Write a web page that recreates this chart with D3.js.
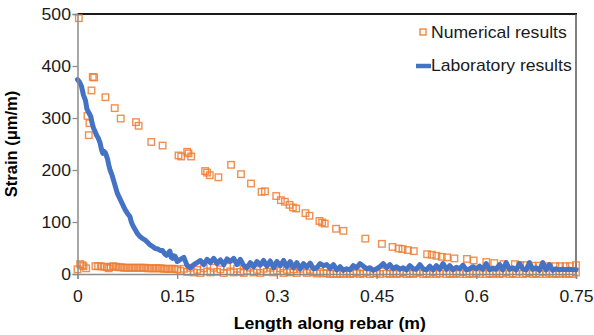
<!DOCTYPE html>
<html>
<head>
<meta charset="utf-8">
<script src="https://cdn.jsdelivr.net/npm/d3@7"></script>
<style>
  body { margin: 0; background: #fff; }
  text { font-family: "Liberation Sans", Arial, sans-serif; }
</style>
</head>
<body>
<div id="chart"></div>
<script>
// numerical results - upper branch (m, µm/m)
var numUpperX = [0.002, 0.015, 0.017, 0.018, 0.021, 0.023, 0.025, 0.042, 0.056, 0.065, 0.088, 0.092, 0.111, 0.128,
  0.152, 0.156, 0.165, 0.167, 0.171, 0.192, 0.195, 0.199, 0.212, 0.231, 0.246, 0.261, 0.277, 0.282, 0.299, 0.306,
  0.312, 0.319, 0.324, 0.329, 0.343, 0.349, 0.364, 0.368, 0.372, 0.389, 0.400, 0.433, 0.458, 0.474, 0.483, 0.489,
  0.497, 0.506, 0.526, 0.533, 0.540, 0.548, 0.556, 0.567, 0.586, 0.596, 0.615, 0.627, 0.641, 0.658, 0.666, 0.673,
  0.684, 0.695, 0.709, 0.719, 0.726, 0.734, 0.741, 0.750];
var numUpperY = [492, 304, 267, 290, 353, 379, 378, 340, 319, 299, 292, 285, 254, 247,
  228, 226, 235, 232, 226, 198, 195, 190, 186, 210, 192, 174, 158, 159, 150, 142,
  139, 133, 128, 126, 117, 112, 102, 99, 97, 87, 83, 68, 58, 52, 49, 48,
  46, 44, 38, 37, 35, 33, 32, 30, 29, 26, 23, 21, 19, 19, 17, 17,
  16, 16, 15, 15, 15, 15, 15, 17];

// numerical results - lower branch along the axis
var numLowerX = [0.000, 0.004, 0.007, 0.009, 0.013, 0.027, 0.031, 0.035, 0.040, 0.044, 0.047, 0.050, 0.054, 0.058,
  0.062, 0.066, 0.070, 0.074, 0.078, 0.082, 0.086, 0.090, 0.094, 0.098, 0.102, 0.106, 0.110, 0.114, 0.118, 0.122,
  0.126, 0.130, 0.134, 0.138, 0.142, 0.146, 0.150,
  0.155, 0.160, 0.165, 0.170, 0.175, 0.180, 0.185, 0.190, 0.195, 0.200, 0.205, 0.210, 0.215, 0.220, 0.225, 0.230,
  0.235, 0.240, 0.245, 0.250, 0.255, 0.260, 0.265, 0.270, 0.275, 0.280, 0.285, 0.290, 0.295, 0.300, 0.305, 0.310,
  0.315, 0.320, 0.325, 0.330, 0.335, 0.340, 0.345, 0.350, 0.355, 0.360, 0.365, 0.370, 0.375, 0.380, 0.385, 0.390,
  0.395, 0.400, 0.405, 0.410, 0.415, 0.420, 0.425, 0.430, 0.435, 0.440, 0.445, 0.450, 0.455, 0.460, 0.465, 0.470,
  0.475, 0.480, 0.485, 0.490, 0.495, 0.500, 0.505, 0.510, 0.515, 0.520, 0.525, 0.530, 0.535, 0.540, 0.545, 0.550,
  0.555, 0.560, 0.565, 0.570, 0.575, 0.580, 0.585, 0.590, 0.595, 0.600, 0.605, 0.610, 0.615, 0.620, 0.625, 0.630,
  0.635, 0.640, 0.645, 0.650, 0.655, 0.660, 0.665, 0.670, 0.675, 0.680, 0.685, 0.690, 0.695, 0.700, 0.705, 0.710,
  0.715, 0.720, 0.725, 0.730, 0.735, 0.740, 0.745, 0.750];
var numLowerY = [9, 19, 17, 15, 11, 15, 15, 15, 14, 13, 11, 14, 15, 14,
  13, 13, 12, 12, 12, 12, 12, 12, 12, 12, 12, 11, 11, 11, 11, 11,
  11, 10, 10, 10, 10, 10, 9,
  6, 10, 4, 12, 3, 8, 2, 11, 5, 3, 12, 4, 9, 2, 14, 5,
  3, 10, 4, 2, 6, 12, 3, 8, 2, 10, 4, 12, 3, 6, 11, 2,
  8, 3, 9, 2, 10, 5, 2, 8, 3, 1, 4, 1, 2, 0, 1, 0,
  1, 0, 2, 0, 1, 3, 0, 1, 4, 0, 1, 2, 0, 5, 1, 0,
  2, 0, 1, 3, 0, 1, 0, 2, 4, 0, 1, 0, 3, 0, 1, 5,
  0, 1, 0, 2, 0, 4, 0, 1, 0, 2, 0, 5, 0, 1, 0, 2,
  0, 1, 4, 0, 1, 0, 5, 0, 1, 3, 0, 1, 0, 4, 0, 2,
  0, 1, 0, 2, 0, 1, 0, 3];

// laboratory results
var labX = [0.000, 0.003, 0.006, 0.009, 0.012, 0.014, 0.017, 0.020, 0.022, 0.024, 0.027, 0.029, 0.031, 0.034,
  0.036, 0.038, 0.040, 0.042, 0.045, 0.047, 0.049, 0.052, 0.054, 0.057, 0.060, 0.063, 0.067, 0.070, 0.072, 0.075,
  0.079, 0.081, 0.083, 0.085, 0.087, 0.090, 0.094, 0.098, 0.102, 0.106, 0.109, 0.113, 0.117, 0.121, 0.125, 0.128,
  0.131, 0.134, 0.137, 0.139, 0.141, 0.143, 0.145, 0.147, 0.150,
  0.155, 0.160, 0.165, 0.170, 0.175, 0.180, 0.185, 0.190, 0.195, 0.200, 0.205, 0.210, 0.215, 0.220, 0.225, 0.230,
  0.235, 0.240, 0.245, 0.250, 0.255, 0.260, 0.265, 0.270, 0.275, 0.280, 0.285, 0.290, 0.295, 0.300, 0.305, 0.310,
  0.315, 0.320, 0.325, 0.330, 0.335, 0.340, 0.345, 0.350, 0.355, 0.360, 0.365, 0.370, 0.375, 0.380, 0.385, 0.390,
  0.395, 0.400, 0.405, 0.410, 0.415, 0.420, 0.425, 0.430, 0.435, 0.440, 0.445, 0.450, 0.455, 0.460, 0.465, 0.470,
  0.475, 0.480, 0.485, 0.490, 0.495, 0.500, 0.505, 0.510, 0.515, 0.520, 0.525, 0.530, 0.535, 0.540, 0.545, 0.550,
  0.555, 0.560, 0.565, 0.570, 0.575, 0.580, 0.585, 0.590, 0.595, 0.600, 0.605, 0.610, 0.615, 0.620, 0.625, 0.630,
  0.635, 0.640, 0.645, 0.650, 0.655, 0.660, 0.665, 0.670, 0.675, 0.680, 0.685, 0.690, 0.695, 0.700, 0.705, 0.710,
  0.715, 0.720, 0.725, 0.730, 0.735, 0.740, 0.745, 0.750];
var labY = [374, 369, 361, 344, 334, 318, 310, 303, 290, 281, 272, 266, 262, 252,
  240, 232, 236, 233, 222, 210, 200, 190, 181, 168, 155, 147, 136, 128, 123, 117,
  110, 100, 94, 89, 85, 78, 72, 68, 65, 60, 56, 53, 49, 48, 45, 45,
  39, 36, 41, 44, 32, 30, 35, 34, 24,
  28, 32, 16, 12, 18, 22, 26, 18, 28, 22, 30, 20, 27, 18, 29, 24,
  30, 18, 28, 16, 12, 22, 14, 24, 17, 26, 15, 25, 12, 24, 16, 26,
  14, 24, 12, 22, 10, 20, 13, 21, 10, 12, 20, 16, 18, 11, 18, 8,
  14, 7, 10, 8, 16, 12, 20, 15, 10, 12, 7, 10, 14, 20, 12, 18,
  10, 14, 9, 12, 8, 16, 10, 9, 18, 10, 8, 15, 8, 16, 9, 20,
  9, 16, 8, 13, 10, 17, 8, 10, 14, 10, 15, 9, 20, 8, 11, 9,
  18, 8, 22, 9, 12, 8, 20, 10, 8, 22, 9, 12, 7, 22, 8, 18,
  7, 10, 8, 9, 8, 9, 8, 8];

var xTicks = [0, 0.15, 0.3, 0.45, 0.6, 0.75];
var yTicks = [0, 100, 200, 300, 400, 500];

var orange = "#ED7D31";
var blue = "#4472C4";
// the source picture is a little stretched sideways
var stretch = "scale(1.1,1)";

//constructor
function StrainChart(_el) {
  var vis = this;
  vis.el = _el;
  vis.init();
}

//function init
StrainChart.prototype.init = function() {
  var vis = this;
  vis.width = 594;
  vis.height = 335;
  vis.margin = { top: 14, right: 18, bottom: 61, left: 77.5 };

  vis.svg = d3.select(vis.el).append("svg")
    .attr("width", vis.width)
    .attr("height", vis.height);

  vis.x = d3.scaleLinear()
    .domain([0, 0.75])
    .range([vis.margin.left, vis.width - vis.margin.right]);
  vis.y = d3.scaleLinear()
    .domain([0, 500])
    .range([vis.height - vis.margin.bottom, vis.margin.top]);

  vis.update();
};

//function update - draws everything
StrainChart.prototype.update = function() {
  var vis = this;
  var x0 = vis.x.range()[0], x1 = vis.x.range()[1];
  var y0 = vis.y.range()[0], y1 = vis.y.range()[1];

  //frame: dark top line and grey right line
  vis.svg.append("line")
    .attr("x1", x0).attr("x2", x1 + 1)
    .attr("y1", y1).attr("y2", y1)
    .style("stroke", "#1a1a1a")
    .style("stroke-width", 1.8);
  vis.svg.append("line")
    .attr("x1", x1).attr("x2", x1)
    .attr("y1", y1).attr("y2", y0)
    .style("stroke", "#5f5f5f")
    .style("stroke-width", 1.6);

  //numerical results as open squares
  var numPts = numUpperX.map(function(d, i) { return [d, numUpperY[i]]; })
    .concat(numLowerX.map(function(d, i) { return [d, numLowerY[i]]; }));
  var s = 6.5;
  vis.svg.append("g").selectAll("rect")
    .data(numPts)
    .enter().append("rect")
    .attr("x", function(d) { return vis.x(d[0]) - s / 2; })
    .attr("y", function(d) { return vis.y(d[1]) - s / 2; })
    .attr("width", s)
    .attr("height", s)
    .style("fill", "none")
    .style("stroke", orange)
    .style("stroke-opacity", 0.85)
    .style("stroke-width", 1.4);

  //laboratory results line
  var line = d3.line()
    .x(function(d) { return vis.x(d[0]); })
    .y(function(d) { return vis.y(d[1]); });
  vis.svg.append("path")
    .datum(labX.map(function(d, i) { return [d, labY[i]]; }))
    .attr("d", line)
    .style("fill", "none")
    .style("stroke", blue)
    .style("stroke-width", 5)
    .style("stroke-linejoin", "round")
    .style("stroke-linecap", "round");

  //axes
  var yAxis = d3.axisLeft(vis.y).tickValues(yTicks).tickSize(5).tickPadding(1).tickFormat(d3.format("d"));
  var xAxis = d3.axisBottom(vis.x).tickValues(xTicks).tickSize(5).tickPadding(12)
    .tickFormat(function(d) { return d === 0 ? "0" : String(d); });

  var gy = vis.svg.append("g")
    .attr("transform", "translate(" + x0 + ",0)")
    .call(yAxis);
  var gx = vis.svg.append("g")
    .attr("transform", "translate(0," + y0 + ")")
    .call(xAxis);
  [gx, gy].forEach(function(g) {
    g.select(".domain").style("stroke", "#8c8c8c").style("stroke-width", 1.5);
    g.selectAll(".tick line").style("stroke", "#8c8c8c").style("stroke-width", 1.3);
    g.selectAll(".tick text")
      .attr("transform", stretch)
      .style("font-family", "'Liberation Sans', Arial, sans-serif")
      .style("font-size", "16px")
      .style("fill", "#1a1a1a");
  });

  //axis titles
  vis.svg.append("text")
    .text("Length along rebar (m)")
    .attr("transform", "translate(" + ((x0 + x1) / 2 + 3) + ",329) scale(1.07,1)")
    .style("text-anchor", "middle")
    .style("font-weight", "bold")
    .style("font-size", "16.5px")
    .style("fill", "#000");
  vis.svg.append("text")
    .text("Strain (\u03bcm/m)")
    .attr("transform", "translate(17," + (y0 + y1) / 2 + ") rotate(-90)")
    .style("text-anchor", "middle")
    .style("font-weight", "bold")
    .style("font-size", "16.5px")
    .style("fill", "#000");

  //legend
  vis.svg.append("rect")
    .attr("x", 420).attr("y", 29)
    .attr("width", 6).attr("height", 6)
    .style("fill", "none")
    .style("stroke", orange)
    .style("stroke-width", 1.3);
  vis.svg.append("text")
    .text("Numerical results")
    .attr("transform", "translate(431,37.5) " + stretch)
    .style("font-size", "16px")
    .style("fill", "#1a1a1a");
  vis.svg.append("line")
    .attr("x1", 416).attr("x2", 431)
    .attr("y1", 66).attr("y2", 66)
    .style("stroke", blue)
    .style("stroke-width", 4.5);
  vis.svg.append("text")
    .text("Laboratory results")
    .attr("transform", "translate(431,71) " + stretch)
    .style("font-size", "16px")
    .style("fill", "#1a1a1a");
};

var chart = new StrainChart("#chart");
</script>
</body>
</html>
